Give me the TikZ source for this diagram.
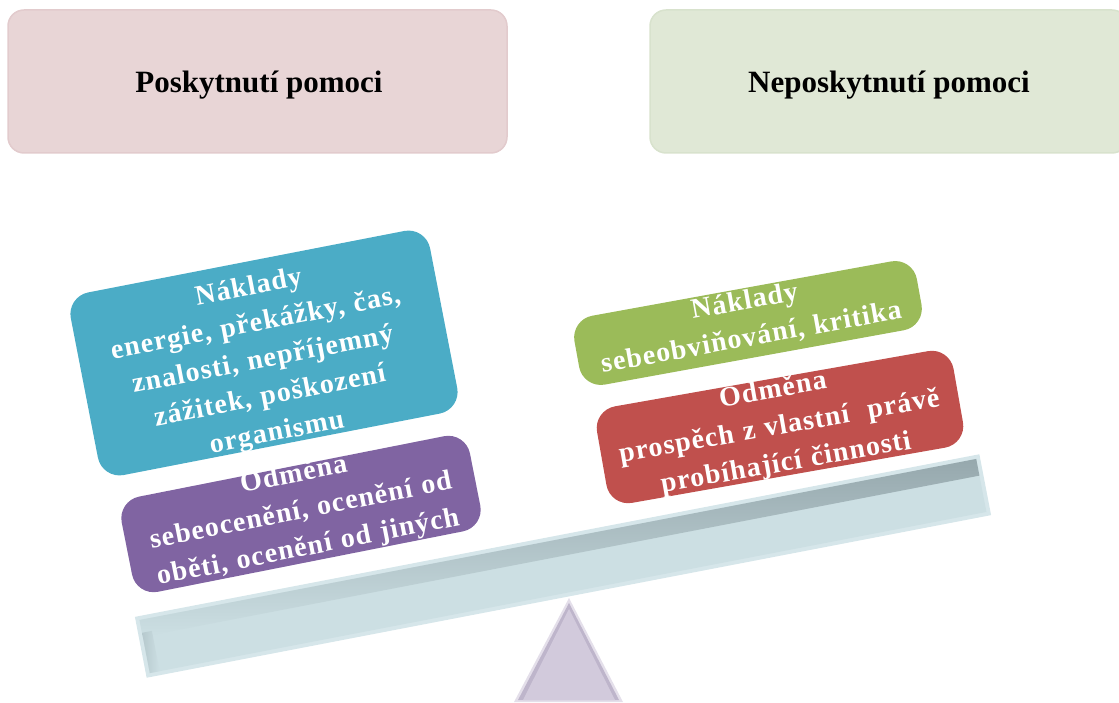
\documentclass[tikz,border=0pt]{standalone}
\usepackage{fontspec}
\setmainfont{Liberation Serif}
\usetikzlibrary{calc}

\definecolor{helpbg}{RGB}{232,213,214}
\definecolor{helpbd}{RGB}{226,203,205}
\definecolor{nohelpbg}{RGB}{224,232,214}
\definecolor{nohelpbd}{RGB}{216,226,205}
\definecolor{costblue}{RGB}{75,172,198}
\definecolor{rewardviolet}{RGB}{128,100,162}
\definecolor{costgreen}{RGB}{155,187,89}
\definecolor{rewardred}{RGB}{192,80,77}
\definecolor{beamrim}{RGB}{214,230,234}
\definecolor{beamfill}{RGB}{204,223,227}
\definecolor{beamshadow}{RGB}{150,168,173}
\definecolor{pivotfill}{RGB}{210,202,220}
\definecolor{pivotrim}{RGB}{228,223,234}
\definecolor{pivotshadow}{RGB}{190,181,203}

\tikzset{
  headbox/.style={rounded corners=16, line width=1.5pt, minimum height=143},
  headtext/.style={font=\fontsize{31}{35}\selectfont\bfseries, text=black},
  tilebox/.style={rounded corners=22, minimum width=#1, inner sep=0pt},
  tiletext/.style={text=white, align=center, text width=#1, inner sep=0pt,
    font=\fontsize{28}{37}\selectfont\bfseries\addfontfeature{LetterSpace=4}},
}

\begin{document}
\begin{tikzpicture}[x=1pt,y=1pt]
\useasboundingbox (0,0) rectangle (1119,702);
\clip (0,0) rectangle (1119,702);

% header boxes
\node[headbox, fill=helpbg, draw=helpbd, minimum width=499] (help) at (257.5,620.5) {};
\node[headbox, fill=nohelpbg, draw=nohelpbd, minimum width=478] (nohelp) at (889,620.5) {};
\node[headtext] (helplabel) at (259,617) {Poskytnutí pomoci};
\node[headtext] (nohelplabel) at (889,617) {Neposkytnutí pomoci};

% pivot
\fill[pivotrim] (569,104) -- (623,0) -- (514,0) -- cycle;
\fill[pivotshadow] (569,99) -- (619,2) -- (518,2) -- cycle;
\fill[pivotfill] (569,93) -- (615,2) -- (523,2) -- cycle;

% beam
\begin{scope}[shift={(563,136)}, rotate=10.9]
  \fill[beamrim] (-430,-31) rectangle (430,31);
  \fill[beamfill] (-426,-27) rectangle (426,27);
  \shade[top color=beamshadow, bottom color=beamfill] (-426,10) rectangle (426,27);
  \shade[left color=beamshadow!40!beamfill, right color=beamfill] (-426,-27) rectangle (-416,14);
\end{scope}

% left pan: costs and rewards of helping
\node[tilebox=366, minimum height=186, fill=costblue, rotate=11] (helpcost) at (264,349) {};
\node[tiletext=340, rotate=11] (helpcosttext) at ($(helpcost.center)+(-1,-8)$)
  {Náklady\\energie, překážky, čas,\\znalosti, nepříjemný\\zážitek, poškození\\organismu};

\node[tilebox=355, minimum height=97, fill=rewardviolet, rotate=11.2] (helpreward) at (301,188) {};
\node[tiletext=340, rotate=11.2] (helprewardtext) at ($(helpreward.center)+(0,2)$)
  {Odměna\\sebeocenění, ocenění od\\oběti, ocenění od jiných};

% right pan: costs and rewards of not helping
\node[tilebox=348, minimum height=70, fill=costgreen, rotate=10.3] (nohelpcost) at (748,379) {};
\node[tiletext=340, rotate=10.3] (nohelpcosttext) at ($(nohelpcost.center)+(0,3)$)
  {Náklady\\sebeobviňování, kritika};

\node[tilebox=362, minimum height=98, fill=rewardred, rotate=10] (nohelpreward) at (780,275) {};
\node[tiletext=350, rotate=10] (nohelprewardtext) at ($(nohelpreward.center)+(-0.5,-0.5)$)
  {Odměna\\prospěch z vlastní~ právě\\probíhající činnosti};
\end{tikzpicture}
\end{document}
